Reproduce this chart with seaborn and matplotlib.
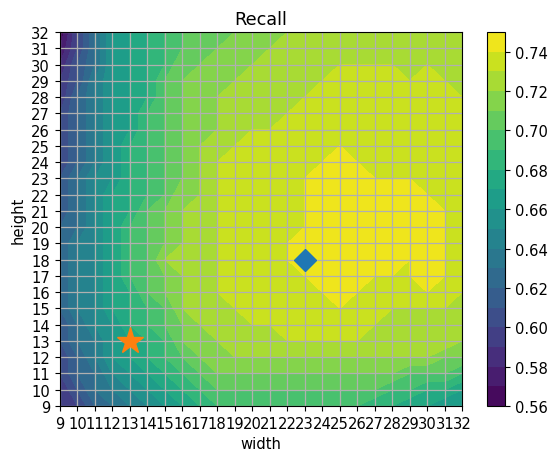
import numpy as np
import matplotlib
matplotlib.use("Agg")
import matplotlib.pyplot as plt
import seaborn as sns

widths = list(range(9, 33))
heights = list(range(9, 33))
xtick_labels = [str(w) for w in widths]
ytick_labels = [str(h) for h in heights]

# recall values in hundredths, keyed by height; left part = widths 9..18
left_part = {
    32: [56,60,63,66,67,68,69,70,71,71],
    31: [57,60,63,66,67,68,69,70,71,71],
    30: [58,61,63,66,67,68,69,71,71,72],
    29: [59,61,64,66,67,68,70,71,72,72],
    28: [59,62,64,66,67,68,70,71,72,72],
    27: [60,62,64,66,67,69,70,71,72,72],
    26: [60,62,64,66,67,69,70,71,72,72],
    25: [60,62,64,66,68,69,70,71,72,73],
    24: [60,62,64,66,68,69,70,71,72,73],
    23: [61,63,65,66,68,69,70,71,72,73],
    22: [61,63,65,67,68,69,70,72,72,73],
    21: [61,63,65,67,68,70,71,72,73,73],
    20: [62,63,65,67,69,70,71,72,73,73],
    19: [62,64,65,67,69,70,71,72,73,73],
    18: [62,64,65,67,69,70,72,73,73,73],
    17: [62,64,65,67,69,70,71,72,73,73],
    16: [62,64,65,67,68,70,71,72,73,73],
    15: [62,64,65,67,68,69,70,72,73,73],
    14: [61,63,65,66,68,69,70,71,72,73],
    13: [61,63,64,66,67,68,69,71,72,72],
    12: [60,62,64,66,67,68,69,70,71,72],
    11: [60,62,63,65,66,67,68,69,70,71],
    10: [59,61,63,64,65,66,67,68,69,70],
    9:  [59,60,62,63,64,65,66,67,68,69],
}
# right part = widths 19..32
right_part = {
    32: [71,72,72,72,73,73,73,73,73,73,73,73,73,73],
    31: [72,72,72,73,73,73,73,73,73,73,73,73,73,73],
    30: [72,72,73,73,73,73,73,73,73,73,73,73,73,73],
    29: [72,73,73,73,73,73,74,74,74,74,73,74,73,73],
    28: [73,73,73,73,73,74,74,74,74,74,74,74,74,73],
    27: [73,73,73,73,74,74,74,74,74,74,74,74,74,74],
    26: [73,73,73,74,74,74,74,74,74,74,74,74,74,74],
    25: [73,74,74,74,74,74,74,74,74,74,74,74,74,74],
    24: [74,74,74,74,74,74,75,74,74,74,74,74,74,74],
    23: [74,74,74,74,74,75,75,75,74,74,74,74,74,74],
    22: [74,74,74,74,74,75,75,75,75,75,75,74,74,74],
    21: [74,74,74,74,74,75,75,75,75,75,75,75,74,74],
    20: [74,74,74,74,74,75,75,75,75,75,75,75,74,74],
    19: [74,74,74,74,75,75,75,75,75,75,75,75,74,74],
    18: [74,74,74,74,75,75,75,75,75,75,74,75,74,74],
    17: [74,74,74,74,74,75,75,75,74,74,74,75,74,74],
    16: [74,74,74,74,74,74,75,74,74,74,74,74,74,73],
    15: [73,74,74,74,74,74,74,74,74,73,73,73,73,73],
    14: [73,73,73,74,74,74,74,74,73,73,73,73,73,73],
    13: [73,73,73,73,73,73,73,73,73,73,73,73,73,72],
    12: [72,72,72,72,72,72,72,72,72,72,72,72,71,71],
    11: [71,71,71,71,71,71,71,71,71,71,70,70,70,69],
    10: [70,70,70,70,70,70,70,70,70,69,69,68,68,67],
    9:  [69,69,69,69,69,69,69,69,68,68,67,67,66,66],
}

best_point = (23, 18)
baseline_point = (13, 13)

Z = np.array([left_part[h] + right_part[h] for h in heights]) / 100.0
levels = np.arange(56, 76) / 100.0

plt.rcParams["font.size"] = 10.6

fig = plt.figure(figsize=(5.49, 4.52), dpi=100)
ax = fig.add_axes([0.109, 0.0996, 0.733, 0.8274])
cax = fig.add_axes([0.887, 0.0996, 0.033, 0.8274])

cmap = sns.color_palette("viridis", as_cmap=True)
cs = ax.contourf(widths, heights, Z, levels=levels, cmap=cmap)
pal = sns.color_palette()
ax.plot(*best_point, marker="D", color=pal[0], markersize=11, linestyle="none", zorder=5)
ax.plot(*baseline_point, marker="*", color=pal[1], markersize=20, linestyle="none", zorder=5)

ax.set_xticks(widths)
ax.set_xticklabels(xtick_labels)
ax.set_yticks(heights)
ax.set_yticklabels(ytick_labels)
ax.grid(True, color="#b0b0b0", linewidth=0.9)
ax.set_xlabel("width")
ax.set_ylabel("height")
ax.set_title("Recall")

cb = fig.colorbar(cs, cax=cax)
cb.set_ticks(np.arange(56, 75, 2) / 100.0)
cb.set_ticklabels([f"{v/100:.2f}" for v in range(56, 75, 2)])

fig.savefig("out.png", dpi=100)
